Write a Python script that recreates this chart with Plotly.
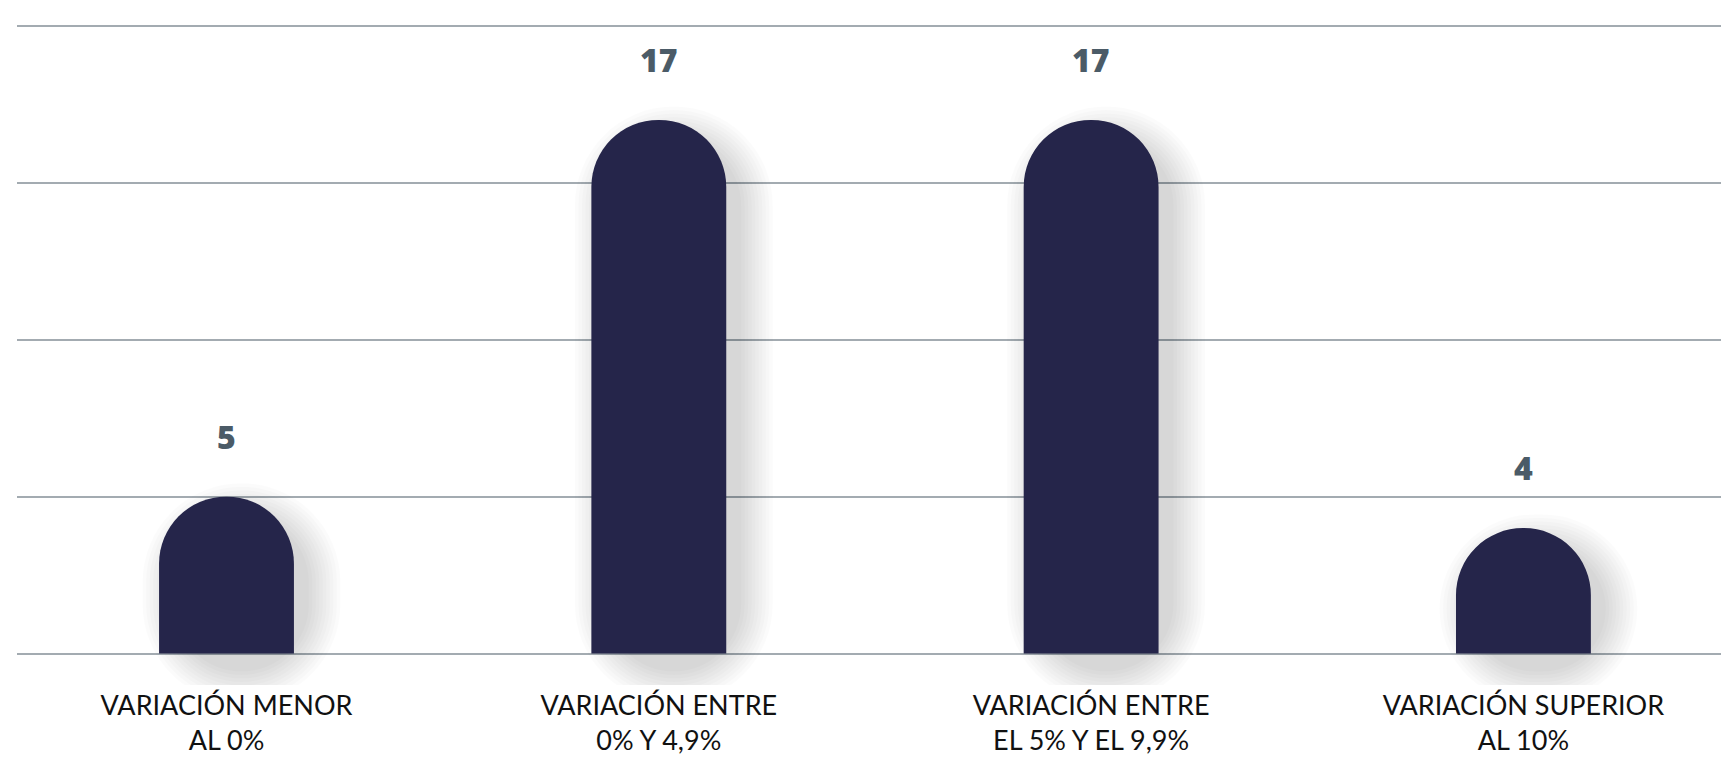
import plotly.graph_objects as go

categories = ["VARIACIÓN MENOR<br>AL 0%", "VARIACIÓN ENTRE<br>0% Y 4,9%",
              "VARIACIÓN ENTRE<br>EL 5% Y EL 9,9%", "VARIACIÓN SUPERIOR<br>AL 10%"]
values = [5, 17, 17, 4]
value_labels = ["5", "17", "17", "4"]

BAR_COLOR = "#25254a"
GRID_COLOR = "#a3abb1"
LABEL_COLOR = "#4b5b67"

W, H = 1721, 761
ML, MR, MT, MB = 17, 0, 22, 76
XR = [-0.4846, 3.457]
YR = [-1.0, 20.12]
px_x = (W - ML - MR) / (XR[1] - XR[0])
px_y = (H - MT - MB) / (YR[1] - YR[0])
bar_w = 0.312

fig = go.Figure()

# soft shadow layers (derived from the same values)
dx, dy = 15, 18
n_layers = 10
for k in range(n_layers):
    s = 3.5 * k
    w = bar_w + 2 * s / px_x
    base = -(dy + s) / px_y
    length = [v + 2 * s / px_y for v in values]
    fig.add_trace(go.Bar(
        x=categories, y=length, base=[base] * len(values),
        width=w, offset=-w / 2 + dx / px_x,
        marker=dict(color="rgba(0,0,0,0.016)", cornerradius="50%", line=dict(width=0)),
        hoverinfo="skip", showlegend=False, cliponaxis=False,
    ))

fig.add_trace(go.Bar(
    x=categories, y=values, width=bar_w,
    marker=dict(color=BAR_COLOR, cornerradius="50%", line=dict(width=0)),
    showlegend=False,
))

for c, v, t in zip(categories, values, value_labels):
    fig.add_annotation(x=c, y=v, text=t, showarrow=False, yanchor="bottom",
                       yshift=37, font=dict(family="Open Sans", size=32, color=LABEL_COLOR,
                                            weight=800))

fig.update_layout(
    width=W, height=H, margin=dict(l=ML, r=MR, t=MT, b=MB),
    plot_bgcolor="white", paper_bgcolor="white", barmode="overlay",
    font=dict(family="Lato", color="#111111"),
)
fig.update_xaxes(range=XR, showgrid=False, zeroline=False, showline=False,
                 ticks="", tickfont=dict(family="Lato", size=27, color="#111111"),
                 ticklabelstandoff=2)
fig.update_yaxes(range=YR, dtick=5, tick0=0, showgrid=True, gridcolor=GRID_COLOR,
                 gridwidth=2, zeroline=False, showticklabels=False, showline=False)

fig.write_html("out.html", config={"displayModeBar": False},
               post_script="document.body.style.margin='0';document.body.style.overflow='hidden';")
